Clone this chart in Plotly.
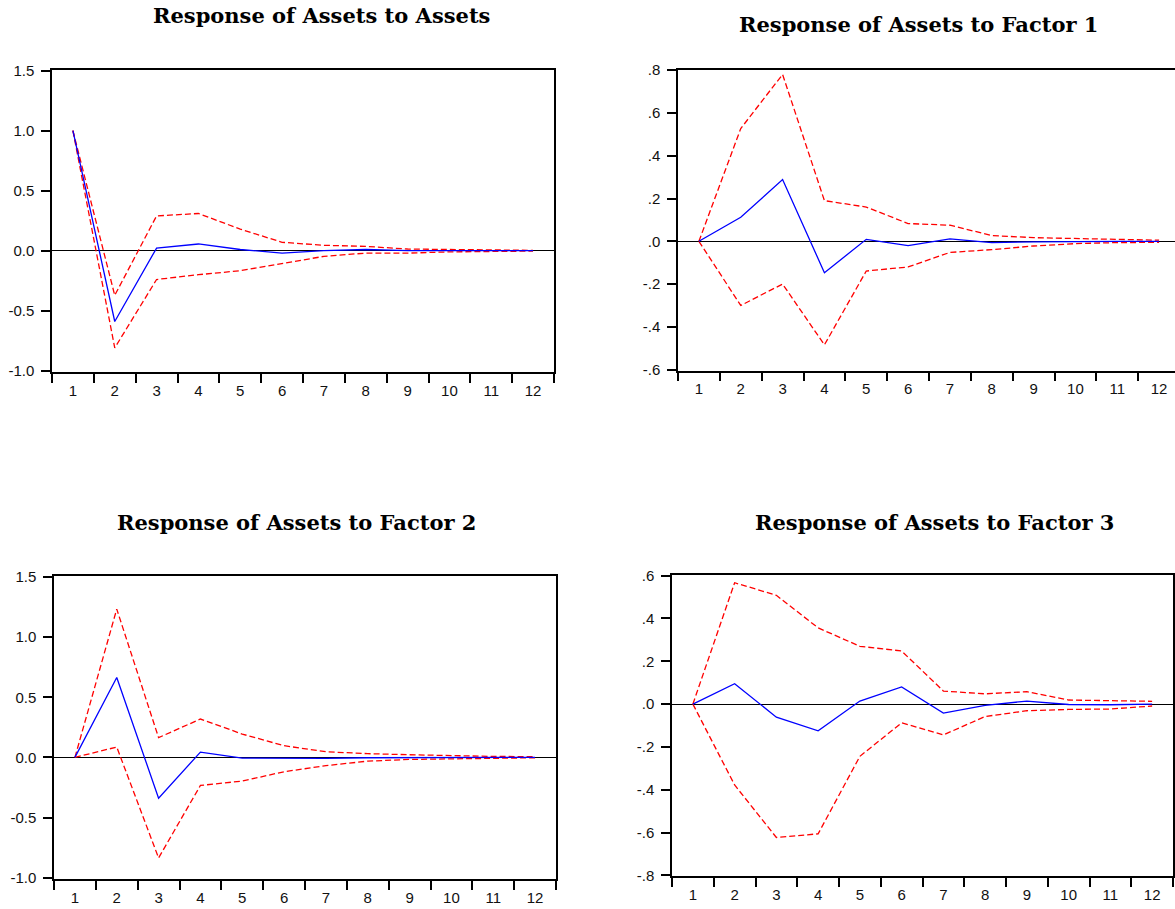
import plotly.graph_objects as go

W, H = 1175, 909

periods = ["1", "2", "3", "4", "5", "6", "7", "8", "9", "10", "11", "12"]

titles = ["Response of Assets to Assets", "Response of Assets to Factor 1",
          "Response of Assets to Factor 2", "Response of Assets to Factor 3"]

# Panel 1: Assets -> Assets
p1_resp = [1.0, -0.59, 0.022, 0.056, 0.01, -0.02, 0.0, 0.01, 0.0, -0.003, 0.0, 0.0]
p1_upper = [1.0, -0.372, 0.29, 0.31, 0.18, 0.07, 0.045, 0.036, 0.014, 0.01, 0.008, 0.003]
p1_lower = [1.0, -0.81, -0.24, -0.20, -0.167, -0.105, -0.047, -0.02, -0.02, -0.01, -0.005, -0.003]

# Panel 2: Assets -> Factor 1
p2_resp = [0.0, 0.112, 0.289, -0.147, 0.009, -0.02, 0.011, -0.006, -0.003, 0.0, 0.0, 0.0]
p2_upper = [0.0, 0.527, 0.78, 0.19, 0.16, 0.083, 0.075, 0.027, 0.017, 0.014, 0.008, 0.005]
p2_lower = [0.0, -0.30, -0.20, -0.484, -0.139, -0.12, -0.052, -0.039, -0.022, -0.011, -0.006, -0.005]

# Panel 3: Assets -> Factor 2
p3_resp = [0.0, 0.664, -0.339, 0.044, -0.006, -0.008, -0.008, -0.003, -0.003, -0.002, 0.0, 0.0]
p3_upper = [0.0, 1.233, 0.164, 0.319, 0.194, 0.097, 0.047, 0.031, 0.022, 0.014, 0.008, 0.006]
p3_lower = [0.0, 0.086, -0.836, -0.233, -0.197, -0.119, -0.069, -0.031, -0.017, -0.011, -0.006, -0.003]

# Panel 4: Assets -> Factor 3
p4_resp = [0.0, 0.095, -0.061, -0.125, 0.014, 0.08, -0.042, -0.006, 0.014, -0.002, -0.003, 0.0]
p4_upper = [0.0, 0.567, 0.508, 0.356, 0.27, 0.248, 0.061, 0.048, 0.058, 0.019, 0.016, 0.013]
p4_lower = [0.0, -0.378, -0.623, -0.606, -0.244, -0.0875, -0.144, -0.058, -0.031, -0.025, -0.023, -0.009]

ytick_vals_a = [1.5, 1.0, 0.5, 0.0, -0.5, -1.0]
ytick_text_a = ["1.5", "1.0", "0.5", "0.0", "-0.5", "-1.0"]
ytick_vals_b = [0.8, 0.6, 0.4, 0.2, 0.0, -0.2, -0.4, -0.6]
ytick_text_b = [".8", ".6", ".4", ".2", ".0", "-.2", "-.4", "-.6"]
ytick_vals_c = [0.6, 0.4, 0.2, 0.0, -0.2, -0.4, -0.6, -0.8]
ytick_text_c = [".6", ".4", ".2", ".0", "-.2", "-.4", "-.6", "-.8"]

panels = [
    dict(resp=p1_resp, up=p1_upper, lo=p1_lower, px=(52, 554), py=(70, 372),
         yr=[-1.011, 1.506], tv=ytick_vals_a, tt=ytick_text_a, xr=[-0.5, 11.5],
         ymirror=True, title=(321.5, 16)),
    dict(resp=p2_resp, up=p2_upper, lo=p2_lower, px=(678, 1175), py=(69.5, 370.5),
         yr=[-0.604, 0.803], tv=ytick_vals_b, tt=ytick_text_b, xr=[-0.5, 11.38],
         ymirror=False, title=(918.5, 25)),
    dict(resp=p3_resp, up=p3_upper, lo=p3_lower, px=(54, 556), py=(576, 879),
         yr=[-1.011, 1.508], tv=ytick_vals_a, tt=ytick_text_a, xr=[-0.5, 11.5],
         ymirror=True, title=(296, 522)),
    dict(resp=p4_resp, up=p4_upper, lo=p4_lower, px=(672, 1173), py=(575, 876),
         yr=[-0.803, 0.603], tv=ytick_vals_c, tt=ytick_text_c, xr=[-0.5, 11.5],
         ymirror=True, title=(934.5, 522)),
]

fig = go.Figure()
layout = dict(
    width=W, height=H,
    margin=dict(l=0, r=0, t=0, b=0, pad=0),
    paper_bgcolor="white", plot_bgcolor="white",
    showlegend=False,
    font=dict(family="Liberation Sans, Arial, sans-serif", size=15, color="#111111"),
)
annotations = []

for i, p in enumerate(panels, start=1):
    xa = "x" if i == 1 else f"x{i}"
    ya = "y" if i == 1 else f"y{i}"
    red = dict(color="#FF0000", width=1.3, dash="6px,3px")
    fig.add_trace(go.Scatter(x=periods, y=p["up"], mode="lines", line=red, xaxis=xa, yaxis=ya))
    fig.add_trace(go.Scatter(x=periods, y=p["lo"], mode="lines", line=red, xaxis=xa, yaxis=ya))
    fig.add_trace(go.Scatter(x=periods, y=p["resp"], mode="lines",
                             line=dict(color="#0000FF", width=1.3), xaxis=xa, yaxis=ya))
    xk = "xaxis" if i == 1 else f"xaxis{i}"
    yk = "yaxis" if i == 1 else f"yaxis{i}"
    layout[xk] = dict(
        domain=[p["px"][0] / W, p["px"][1] / W],
        anchor=ya, type="category", range=p["xr"], automargin=False,
        tickson="boundaries", ticks="outside", ticklen=9, tickwidth=1.5, tickcolor="black",
        showline=True, linecolor="black", linewidth=1.5, mirror=True,
        showgrid=False, zeroline=False, fixedrange=True,
        tickfont=dict(size=15), ticklabelstandoff=4,
    )
    layout[yk] = dict(
        domain=[1 - p["py"][1] / H, 1 - p["py"][0] / H],
        anchor=xa, range=p["yr"], automargin=False,
        tickmode="array", tickvals=p["tv"], ticktext=p["tt"],
        ticks="outside", ticklen=9, tickwidth=1.5, tickcolor="black",
        showline=True, linecolor="black", linewidth=1.5, mirror=p["ymirror"],
        showgrid=False, zeroline=True, zerolinecolor="black", zerolinewidth=1,
        tickfont=dict(size=15), ticklabelstandoff=4,
    )
    annotations.append(dict(
        text="<b>" + titles[i - 1] + "</b>", xref="paper", yref="paper",
        x=p["title"][0] / W, y=1 - p["title"][1] / H,
        xanchor="center", yanchor="middle", showarrow=False,
        font=dict(family="DejaVu Serif, serif", size=21, color="black"),
    ))

layout["annotations"] = annotations
fig.update_layout(**layout)
fig.write_html("out.html")
